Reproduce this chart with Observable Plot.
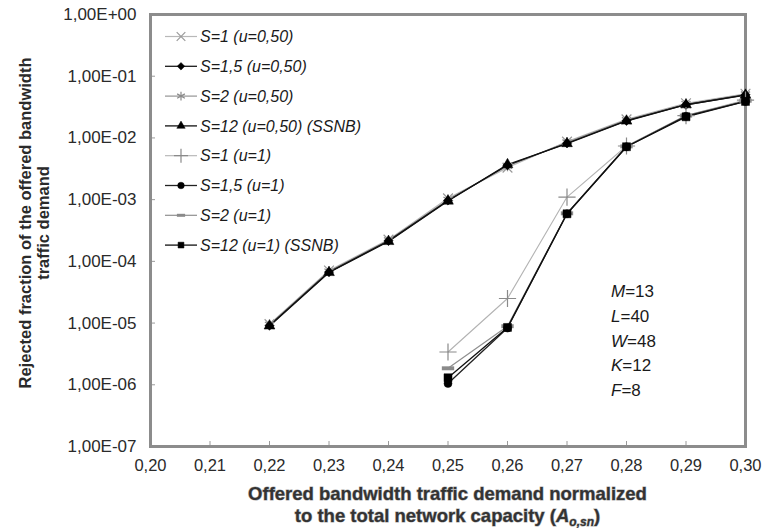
<!DOCTYPE html>
<html><head><meta charset="utf-8">
<script src="https://cdn.jsdelivr.net/npm/d3@7"></script>
<script src="https://cdn.jsdelivr.net/npm/@observablehq/plot@0.6"></script>
<style>
body{margin:0;background:#fff;}
#chart{width:767px;height:528px;}
</style></head><body><div id="chart"></div>
<script>
// ---------- data ----------
const xTicks = [0.20, 0.21, 0.22, 0.23, 0.24, 0.25, 0.26, 0.27, 0.28, 0.29, 0.30];
const yTicks = [1e-7, 1e-6, 1e-5, 1e-4, 1e-3, 1e-2, 1e-1, 1];
const xU05 = [0.22, 0.23, 0.24, 0.25, 0.26, 0.27, 0.28, 0.29, 0.30];
const xU1 = [0.25, 0.26, 0.27, 0.28, 0.29, 0.30];
const seriesNames = ["S=1 (u=0,50)", "S=1,5 (u=0,50)", "S=2 (u=0,50)", "S=12 (u=0,50) (SSNB)",
                     "S=1 (u=1)", "S=1,5 (u=1)", "S=2 (u=1)", "S=12 (u=1) (SSNB)"];
const s1u05  = [9.6e-6, 7.1e-5, 2.25e-4, 1.05e-3, 3.3e-3, 8.7e-3, 2.0e-2, 3.65e-2, 5.2e-2];
const s15u05 = [9.1e-6, 6.7e-5, 2.15e-4, 9.7e-4, 3.6e-3, 8.2e-3, 1.9e-2, 3.45e-2, 5.0e-2];
const s2u05  = [9.4e-6, 6.9e-5, 2.2e-4, 1.0e-3, 3.5e-3, 8.5e-3, 1.95e-2, 3.55e-2, 5.1e-2];
const s12u05 = [9.0e-6, 6.6e-5, 2.1e-4, 9.5e-4, 3.7e-3, 8.1e-3, 1.88e-2, 3.45e-2, 4.95e-2];
const s1u1   = [3.4e-6, 2.5e-5, 1.1e-3, 7.4e-3, 2.3e-2, 4.1e-2];
const s15u1  = [1.05e-6, 8.3e-6, 5.9e-4, 7.2e-3, 2.25e-2, 3.9e-2];
const s2u1   = [1.85e-6, 8.9e-6, 6.0e-4, 7.3e-3, 2.3e-2, 4.0e-2];
const s12u1  = [1.3e-6, 8.5e-6, 5.9e-4, 7.2e-3, 2.2e-2, 3.9e-2];
const paramNames = ["M", "L", "W", "K", "F"];
const paramValues = [13, 40, 48, 12, 8];
const yTitle = ["Rejected fraction of the offered bandwidth", "traffic demand"];
const xTitle1 = "Offered bandwidth traffic demand normalized";
const xTitle2 = "to the total network capacity (";

// ---------- styles ----------
const symbolDash = {draw(ctx, size) {
  const w = Math.sqrt(size) * 1.45, h = Math.max(3, w * 0.32);
  ctx.moveTo(-w / 2, -h / 2); ctx.lineTo(w / 2, -h / 2); ctx.lineTo(w / 2, h / 2); ctx.lineTo(-w / 2, h / 2); ctx.closePath();
}};
const seriesX = [xU05, xU05, xU05, xU05, xU1, xU1, xU1, xU1];
const seriesY = [s1u05, s15u05, s2u05, s12u05, s1u1, s15u1, s2u1, s12u1];
const styles = [
  {symbol: d3.symbolTimes, r: 4.5, lr: 4, fill: "none", stroke: "#9a9a9a", sw: 1.2, line: "#b8b8b8", lw: 1.2},
  {symbol: d3.symbolDiamond2, r: 4.2, lr: 3.4, fill: "#000", stroke: "#000", sw: 0.5, line: "#1a1a1a", lw: 1.3},
  {symbol: d3.symbolAsterisk, r: 5, lr: 4.2, fill: "none", stroke: "#8a8a8a", sw: 1.2, line: "#949494", lw: 1.2},
  {symbol: d3.symbolTriangle, r: 4, lr: 3.1, fill: "#000", stroke: "#000", sw: 0.5, line: "#111", lw: 1.3},
  {symbol: d3.symbolPlus, r: 5.6, lr: 4.6, fill: "none", stroke: "#8a8a8a", sw: 1.2, line: "#b3b3b3", lw: 1.1},
  {symbol: d3.symbolCircle, r: 4, lr: 3.3, fill: "#000", stroke: "#000", sw: 0.5, line: "#222", lw: 1.3},
  {symbol: symbolDash, r: 4.8, lr: 3.2, fill: "#8a8a8a", stroke: "none", sw: 0, line: "#8f8f8f", lw: 1.2},
  {symbol: d3.symbolSquare, r: 4.5, lr: 3.3, fill: "#000", stroke: "#000", sw: 0.5, line: "#111", lw: 1.3}
];

const W = 767, H = 528, mL = 150, mR = 22, mT = 14, mB = 82;
const FONT = "'Liberation Sans', Arial, Helvetica, sans-serif";
const fmtX = d => d.toFixed(2).replace(".", ",");
const fmtY = d => { const e = Math.round(Math.log10(d)); return "1,00E" + (e < 0 ? "-" : "+") + String(Math.abs(e)).padStart(2, "0"); };

const marks = [
  Plot.axisX(xTicks, {tickSize: -5, tickPadding: 18, tickFormat: fmtX, stroke: "#9a9a9a", fill: "#2a2a2a", fontSize: 16.5, label: null}),
  Plot.axisY(yTicks, {tickSize: -5, tickPadding: 19, tickFormat: fmtY, stroke: "#9a9a9a", fill: "#2a2a2a", fontSize: 17, label: null}),
  Plot.frame({stroke: "#8c8c8c", strokeWidth: 3})
];
const order = [0, 2, 1, 3, 4, 6, 5, 7];
order.forEach(i => {
  const st = styles[i];
  marks.push(Plot.line(d3.zip(seriesX[i], seriesY[i]), {x: d => d[0], y: d => d[1], stroke: st.line, strokeWidth: st.lw}));
});
order.forEach(i => {
  const st = styles[i];
  marks.push(Plot.dot(d3.zip(seriesX[i], seriesY[i]), {x: d => d[0], y: d => d[1], symbol: st.symbol, r: st.r, fill: st.fill, stroke: st.stroke, strokeWidth: st.sw}));
});

const chart = Plot.plot({
  width: W, height: H,
  marginLeft: mL, marginRight: mR, marginTop: mT, marginBottom: mB,
  style: {fontFamily: FONT, fontSize: "16px", background: "#fff", color: "#2a2a2a"},
  x: {domain: [0.20, 0.30]},
  y: {type: "log", domain: [1e-7, 1]},
  marks
});
document.getElementById("chart").appendChild(chart);

// ---------- legend, annotation and titles ----------
const svg = d3.select(chart);
const lg = svg.append("g").attr("font-family", FONT).attr("font-size", 16).attr("font-style", "italic")
  .attr("fill", "#1a1a1a").attr("text-anchor", "start");
seriesNames.forEach((n, i) => {
  const st = styles[i];
  const y = mT + 22.5 + i * 29.8;
  lg.append("line").attr("x1", mL + 15).attr("x2", mL + 47).attr("y1", y).attr("y2", y)
    .attr("stroke", st.line).attr("stroke-width", st.lw);
  lg.append("path").attr("transform", `translate(${mL + 31},${y})`)
    .attr("d", d3.symbol(st.symbol, Math.PI * st.lr * st.lr)())
    .attr("fill", st.fill).attr("stroke", st.stroke).attr("stroke-width", st.sw || 1.1);
  lg.append("text").attr("x", mL + 50).attr("y", y).attr("dy", "0.35em").text(n);
});

const ann = svg.append("g").attr("font-family", FONT).attr("font-size", 17).attr("fill", "#1a1a1a").attr("text-anchor", "start");
paramNames.forEach((p, i) => {
  const t = ann.append("text").attr("x", 611).attr("y", 291.5 + i * 24.6).attr("dy", "0.35em");
  t.append("tspan").attr("font-style", "italic").text(p);
  t.append("tspan").text("=" + paramValues[i]);
});

const yt = svg.append("g").attr("font-family", FONT).attr("font-size", 16.5).attr("font-weight", "bold").attr("fill", "#2a2a2a")
  .attr("text-anchor", "middle").attr("transform", "translate(34,223) rotate(-90)");
yTitle.forEach((l, i) => yt.append("text").attr("x", 0).attr("y", (i - 0.5) * 18.5).attr("dy", "0.35em").text(l));

const xt = svg.append("g").attr("font-family", FONT).attr("font-size", 18.5).attr("font-weight", "bold")
  .attr("fill", "#333").attr("stroke", "#aaa").attr("stroke-width", 1).attr("paint-order", "stroke")
  .attr("text-anchor", "middle");
const cx = (mL + W - mR) / 2;
xt.append("text").attr("x", cx).attr("y", 494).attr("dy", "0.35em").text(xTitle1);
const t2 = xt.append("text").attr("x", cx).attr("y", 516).attr("dy", "0.35em");
t2.append("tspan").text(xTitle2);
t2.append("tspan").attr("font-style", "italic").text("A");
t2.append("tspan").attr("font-style", "italic").attr("font-size", 12).attr("dy", "4").text("o,sn");
t2.append("tspan").attr("dy", "-4").text(")");
</script></body></html>
